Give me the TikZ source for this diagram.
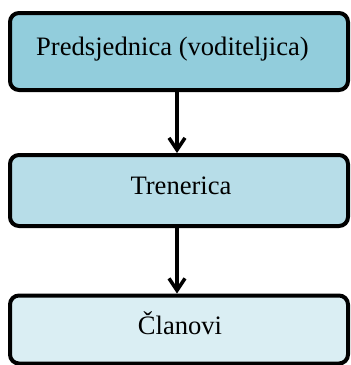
\documentclass[tikz,border=0pt]{standalone}
\usepackage{fontspec}
\setmainfont{Liberation Serif}
\usetikzlibrary{arrows.meta}
\definecolor{boxA}{HTML}{92CDDC}
\definecolor{boxB}{HTML}{B7DDE8}
\definecolor{boxC}{HTML}{DAEEF3}
\tikzset{
  orgbox/.style={draw=black, line width=4pt, rounded corners=9pt, minimum width=338pt, inner sep=0pt},
  lbl/.style={inner sep=0pt, font=\fontsize{26.6}{30}\selectfont},
  conn/.style={line width=3.5pt, -{Straight Barb[length=12pt,width=16pt,line width=3.5pt]}}
}
\begin{document}
\begin{tikzpicture}[x=1pt,y=-1pt]
\useasboundingbox (0,0) rectangle (351,365);
\node[orgbox, fill=boxA, minimum height=77pt] (b1) at (179,51.5) {};
\node[orgbox, fill=boxB, minimum height=71pt] (b2) at (179,190.5) {};
\node[orgbox, fill=boxC, minimum height=68pt] (b3) at (179,329.5) {};
\node[lbl, anchor=base west] (t1) at (36,55) {Predsjednica (voditeljica)};
\node[lbl, anchor=base] (t2) at (181,194) {Trenerica};
\node[lbl, anchor=base] (t3) at (180,334) {Članovi};
\draw[conn] (b1.south -| 177,0) -- (b2.north -| 177,0);
\draw[conn] (b2.south -| 177,0) -- (b3.north -| 177,0);
\end{tikzpicture}
\end{document}
